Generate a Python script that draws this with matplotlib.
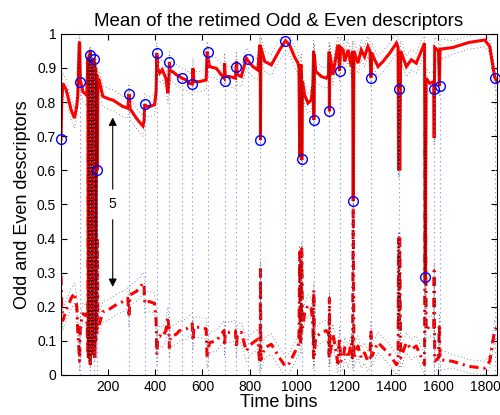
import matplotlib
matplotlib.use("Agg")
import matplotlib.pyplot as plt
import numpy as np

plt.rcParams["font.family"] = ["Liberation Sans", "DejaVu Sans"]

# ------------------------------------------------------------
# Werte
# ------------------------------------------------------------
time_bins = [
    1, 4, 9, 23, 44, 58, 68, 72, 78, 80, 83, 88, 94, 101, 110,
    115, 117, 120, 122, 125, 130, 133, 137, 140, 144, 148, 150, 153, 155, 157,
    164, 178, 200, 221, 245, 263, 284, 289, 294, 320, 335, 348, 353, 356, 360,
    376, 397, 404, 407, 410, 419, 430, 445, 454, 458, 460, 464, 475, 490, 503,
    513, 532, 545, 557, 560, 564, 588, 616, 620, 630, 659, 680, 692, 694, 697,
    715, 740, 744, 748, 765, 786, 800, 814, 835, 842, 845, 846, 848, 864, 892,
    927, 952, 969, 990, 1005, 1009, 1012, 1015, 1019, 1021, 1024, 1033, 1047, 1061,
    1068, 1071, 1072, 1074, 1080, 1104, 1125, 1135, 1137, 1138, 1140, 1153, 1174,
    1181, 1186, 1196, 1203, 1217, 1231, 1236, 1239, 1242, 1259, 1273, 1287, 1301,
    1310, 1314, 1318, 1330, 1344, 1365, 1393, 1422, 1429, 1431, 1433, 1436, 1440,
    1464, 1485, 1506, 1541, 1544, 1548, 1563, 1580, 1582, 1584, 1600, 1604, 1607,
    1660, 1730, 1796, 1817, 1838, 1847,
]

odd_mean = [
    0.690, 0.800, 0.855, 0.836, 0.777, 0.753, 0.790, 0.816, 0.970, 0.977, 0.860, 0.850, 0.830, 0.826, 0.820,
    0.930, 0.050, 0.930, 0.939, 0.030, 0.920, 0.060, 0.910, 0.927, 0.050, 0.900, 0.400, 0.880, 0.600, 0.850,
    0.860, 0.817, 0.810, 0.806, 0.795, 0.787, 0.782, 0.824, 0.780, 0.753, 0.740, 0.730, 0.745, 0.794, 0.788,
    0.787, 0.792, 0.830, 0.943, 0.900, 0.885, 0.895, 0.870, 0.826, 0.860, 0.917, 0.890, 0.889, 0.880, 0.875,
    0.870, 0.865, 0.855, 0.853, 0.899, 0.860, 0.860, 0.865, 0.948, 0.904, 0.899, 0.880, 0.870, 0.914, 0.875,
    0.875, 0.870, 0.919, 0.880, 0.875, 0.929, 0.915, 0.904, 0.894, 0.960, 0.968, 0.690, 0.960, 0.919, 0.909,
    0.953, 0.980, 0.968, 0.933, 0.914, 0.900, 0.640, 0.900, 0.910, 0.630, 0.860, 0.821, 0.797, 0.806,
    0.850, 0.950, 0.748, 0.940, 0.890, 0.875, 0.870, 0.880, 0.948, 0.773, 0.940, 0.880, 0.968,
    0.892, 0.960, 0.953, 0.919, 0.953, 0.904, 0.950, 0.510, 0.950, 0.914, 0.953, 0.933, 0.963,
    0.948, 0.872, 0.945, 0.924, 0.904, 0.919, 0.943, 0.973, 0.960, 0.600, 0.838, 0.600, 0.950,
    0.904, 0.924, 0.914, 0.973, 0.288, 0.870, 0.855, 0.860, 0.695, 0.960, 0.950, 0.847, 0.955,
    0.960, 0.975, 0.982, 0.963, 0.875, 0.860,
]

even_mean = [
    0.290, 0.200, 0.160, 0.190, 0.225, 0.240, 0.200, 0.130, 0.060, 0.040, 0.150, 0.160, 0.180, 0.175, 0.180,
    0.070, 0.920, 0.070, 0.060, 0.950, 0.080, 0.930, 0.090, 0.070, 0.930, 0.100, 0.580, 0.120, 0.400, 0.150,
    0.150, 0.185, 0.190, 0.200, 0.210, 0.215, 0.225, 0.170, 0.235, 0.245, 0.255, 0.270, 0.260, 0.210, 0.215,
    0.215, 0.210, 0.160, 0.060, 0.100, 0.115, 0.110, 0.130, 0.170, 0.140, 0.080, 0.110, 0.115, 0.120, 0.130,
    0.130, 0.135, 0.145, 0.150, 0.100, 0.140, 0.140, 0.135, 0.050, 0.095, 0.100, 0.120, 0.130, 0.085, 0.125,
    0.125, 0.130, 0.080, 0.120, 0.125, 0.070, 0.085, 0.095, 0.105, 0.040, 0.035, 0.310, 0.045, 0.080, 0.090,
    0.050, 0.025, 0.035, 0.065, 0.085, 0.100, 0.360, 0.100, 0.090, 0.370, 0.140, 0.180, 0.205, 0.195,
    0.150, 0.050, 0.250, 0.060, 0.110, 0.125, 0.130, 0.120, 0.050, 0.225, 0.060, 0.120, 0.035,
    0.110, 0.040, 0.050, 0.080, 0.050, 0.095, 0.050, 0.490, 0.050, 0.085, 0.050, 0.065, 0.040,
    0.050, 0.130, 0.055, 0.075, 0.095, 0.080, 0.060, 0.030, 0.040, 0.400, 0.160, 0.400, 0.050,
    0.095, 0.075, 0.085, 0.030, 0.710, 0.130, 0.145, 0.140, 0.305, 0.040, 0.050, 0.150, 0.045,
    0.040, 0.025, 0.020, 0.040, 0.130, 0.140,
]

spread = [
    0.03, 0.03, 0.03, 0.03, 0.03, 0.03, 0.03, 0.03, 0.03, 0.03, 0.03, 0.03, 0.03, 0.03, 0.03,
    0.02, 0.01, 0.02, 0.02, 0.01, 0.02, 0.01, 0.02, 0.02, 0.01, 0.02, 0.01, 0.02, 0.02, 0.03,
    0.03, 0.03, 0.03, 0.03, 0.03, 0.03, 0.03, 0.03, 0.03, 0.03, 0.03, 0.03, 0.03, 0.03, 0.03,
    0.03, 0.03, 0.03, 0.03, 0.03, 0.03, 0.03, 0.03, 0.03, 0.03, 0.03, 0.03, 0.03, 0.03, 0.03,
    0.03, 0.03, 0.03, 0.03, 0.03, 0.03, 0.03, 0.03, 0.03, 0.03, 0.03, 0.03, 0.03, 0.03, 0.03,
    0.03, 0.03, 0.03, 0.03, 0.03, 0.03, 0.03, 0.03, 0.03, 0.03, 0.03, 0.02, 0.03, 0.03, 0.03,
    0.03, 0.03, 0.03, 0.03, 0.03, 0.03, 0.02, 0.03, 0.03, 0.02, 0.03, 0.03, 0.03, 0.03,
    0.03, 0.03, 0.02, 0.03, 0.03, 0.03, 0.03, 0.03, 0.03, 0.02, 0.03, 0.03, 0.03,
    0.03, 0.03, 0.03, 0.03, 0.03, 0.03, 0.03, 0.02, 0.03, 0.03, 0.03, 0.03, 0.03,
    0.03, 0.03, 0.03, 0.03, 0.03, 0.03, 0.03, 0.03, 0.03, 0.02, 0.03, 0.02, 0.03,
    0.03, 0.03, 0.03, 0.03, 0.02, 0.03, 0.03, 0.03, 0.02, 0.03, 0.03, 0.03, 0.03,
    0.02, 0.02, 0.02, 0.02, 0.03, 0.03,
]

peak_bins = [3, 83, 122, 140, 155, 289, 356, 407, 460, 513, 557, 622, 694, 744,
             793, 846, 952, 1021, 1072, 1138, 1181, 1239, 1314, 1433, 1544, 1582,
             1605, 1838]
peak_values = [0.692, 0.860, 0.939, 0.927, 0.600, 0.824, 0.794, 0.943, 0.917,
               0.870, 0.853, 0.947, 0.863, 0.904, 0.926, 0.690, 0.980, 0.632,
               0.748, 0.773, 0.892, 0.511, 0.872, 0.838, 0.288, 0.838, 0.847,
               0.871]

t = np.array(time_bins)
odd = np.array(odd_mean)
even = np.array(even_mean)
sd = np.array(spread)

# ------------------------------------------------------------
# Plot
# ------------------------------------------------------------
fig = plt.figure(figsize=(5.0, 4.15), dpi=100)
ax = fig.add_axes([0.122, 0.0964, 0.872, 0.822])

ax.plot(t, odd, color="#ff0000", lw=2.2, solid_joinstyle="miter")
ax.plot(t, even, color="#ff0000", lw=2.2, linestyle=(0, (3, 1.6, 0.7, 1.6)))

dot = (0, (1, 3))
for band in (odd + sd, odd - sd, even + sd, even - sd):
    ax.plot(t, band, color="k", lw=0.6, linestyle=dot, alpha=0.6)

ax.vlines(peak_bins, 0, peak_values, colors="#7c7cff", lw=0.8, linestyles=(0, (1, 3)))
ax.plot(peak_bins, peak_values, "o", mfc="none", mec="#0000ff", ms=7, mew=1.0,
        clip_on=False, zorder=5)

# Doppelpfeil mit "5"
ax.text(220, 0.5, "5", ha="center", va="center", fontsize=10,
        bbox=dict(facecolor="white", edgecolor="none", pad=1))
for y_end in (0.755, 0.258):
    ax.annotate("", xy=(220, y_end), xytext=(220, 0.5),
                arrowprops=dict(arrowstyle="-|>", color="k", lw=0.8,
                                mutation_scale=12, shrinkA=11, shrinkB=0))

ax.set_xlim(1, 1848)
ax.set_ylim(0, 1)
ax.set_xticks([200, 400, 600, 800, 1000, 1200, 1400, 1600, 1800])
ax.set_yticks(np.arange(0, 1.01, 0.1))
ax.set_yticklabels(["0", "0.1", "0.2", "0.3", "0.4", "0.5", "0.6", "0.7", "0.8", "0.9", "1"])
ax.tick_params(direction="in", top=True, right=True, length=4, labelsize=10)

ax.set_title("Mean of the retimed Odd & Even descriptors", fontsize=13.5, pad=6)
ax.set_xlabel("Time bins", fontsize=13, labelpad=0)
ax.set_ylabel("Odd and Even descriptors", fontsize=13, labelpad=4)

fig.savefig("out.png", dpi=100)
